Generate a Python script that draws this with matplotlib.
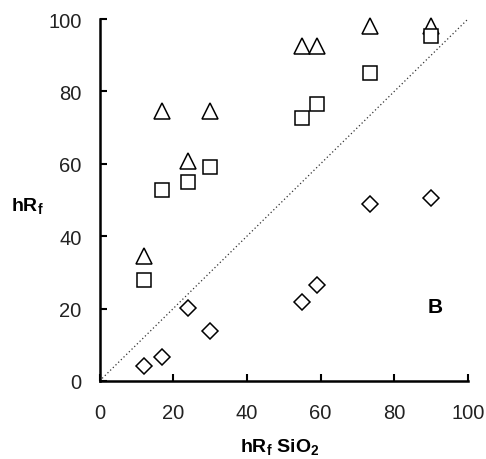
import matplotlib
matplotlib.use("Agg")
import matplotlib.pyplot as plt

plt.rcParams['font.family'] = ['Liberation Sans', 'DejaVu Sans']

x_sio2 = [12, 17, 24, 30, 55, 59, 73.5, 90]
hrf_triangle = [34.5, 74.6, 60.8, 74.6, 92.6, 92.6, 98, 98]
hrf_square = [27.9, 52.8, 55, 59, 72.6, 76.5, 85, 95.3]
hrf_diamond = [4.1, 6.6, 20.2, 13.8, 21.8, 26.5, 48.9, 50.5]
diag = [0, 100]
ticks = [0, 20, 40, 60, 80, 100]

fig = plt.figure(figsize=(4.86, 4.60), dpi=100)
ax = fig.add_axes([99.5/486, (460-382)/460, (468-99.5)/486, (382-20)/460])

ax.plot(diag, diag, linestyle=(0, (1, 2)), color='#333333', linewidth=0.9)
ax.plot(x_sio2, hrf_triangle, linestyle='none', marker='^', markersize=11.5,
        markerfacecolor='white', markeredgecolor='black', markeredgewidth=1.1, clip_on=False)
ax.plot(x_sio2, hrf_square, linestyle='none', marker='s', markersize=10.5,
        markerfacecolor='white', markeredgecolor='black', markeredgewidth=1.1, clip_on=False)
ax.plot(x_sio2, hrf_diamond, linestyle='none', marker='D', markersize=7.8,
        markerfacecolor='white', markeredgecolor='black', markeredgewidth=1.1, clip_on=False)

ax.set_xlim(0, 100)
ax.set_ylim(0, 100)
ax.set_xticks(ticks)
ax.set_yticks(ticks)
ax.tick_params(direction='in', length=5, width=1.5, labelsize=14.5, labelcolor='#222222')
ax.tick_params(axis='x', pad=16)
ax.tick_params(axis='y', pad=13)
for s in ['top', 'right']:
    ax.spines[s].set_visible(False)
for s in ['left', 'bottom']:
    ax.spines[s].set_linewidth(1.8)

ax.text(91, 20.7, 'B', fontsize=15, fontweight='bold', ha='center', va='center')
ax.set_xlabel('hR$_\\mathregular{f}$ SiO$_\\mathregular{2}$', fontsize=14, fontweight='bold')
ax.xaxis.set_label_coords((280-99.5)/(468-99.5), (382-448)/362)
ax.xaxis.label.set_va('center')
ax.set_ylabel('hR$_\\mathregular{f}$', fontsize=14, fontweight='bold', rotation=0, va='center', ha='center')
ax.yaxis.set_label_coords((27-99.5)/(468-99.5), (382-207)/362)

fig.savefig('out.png', dpi=100)
